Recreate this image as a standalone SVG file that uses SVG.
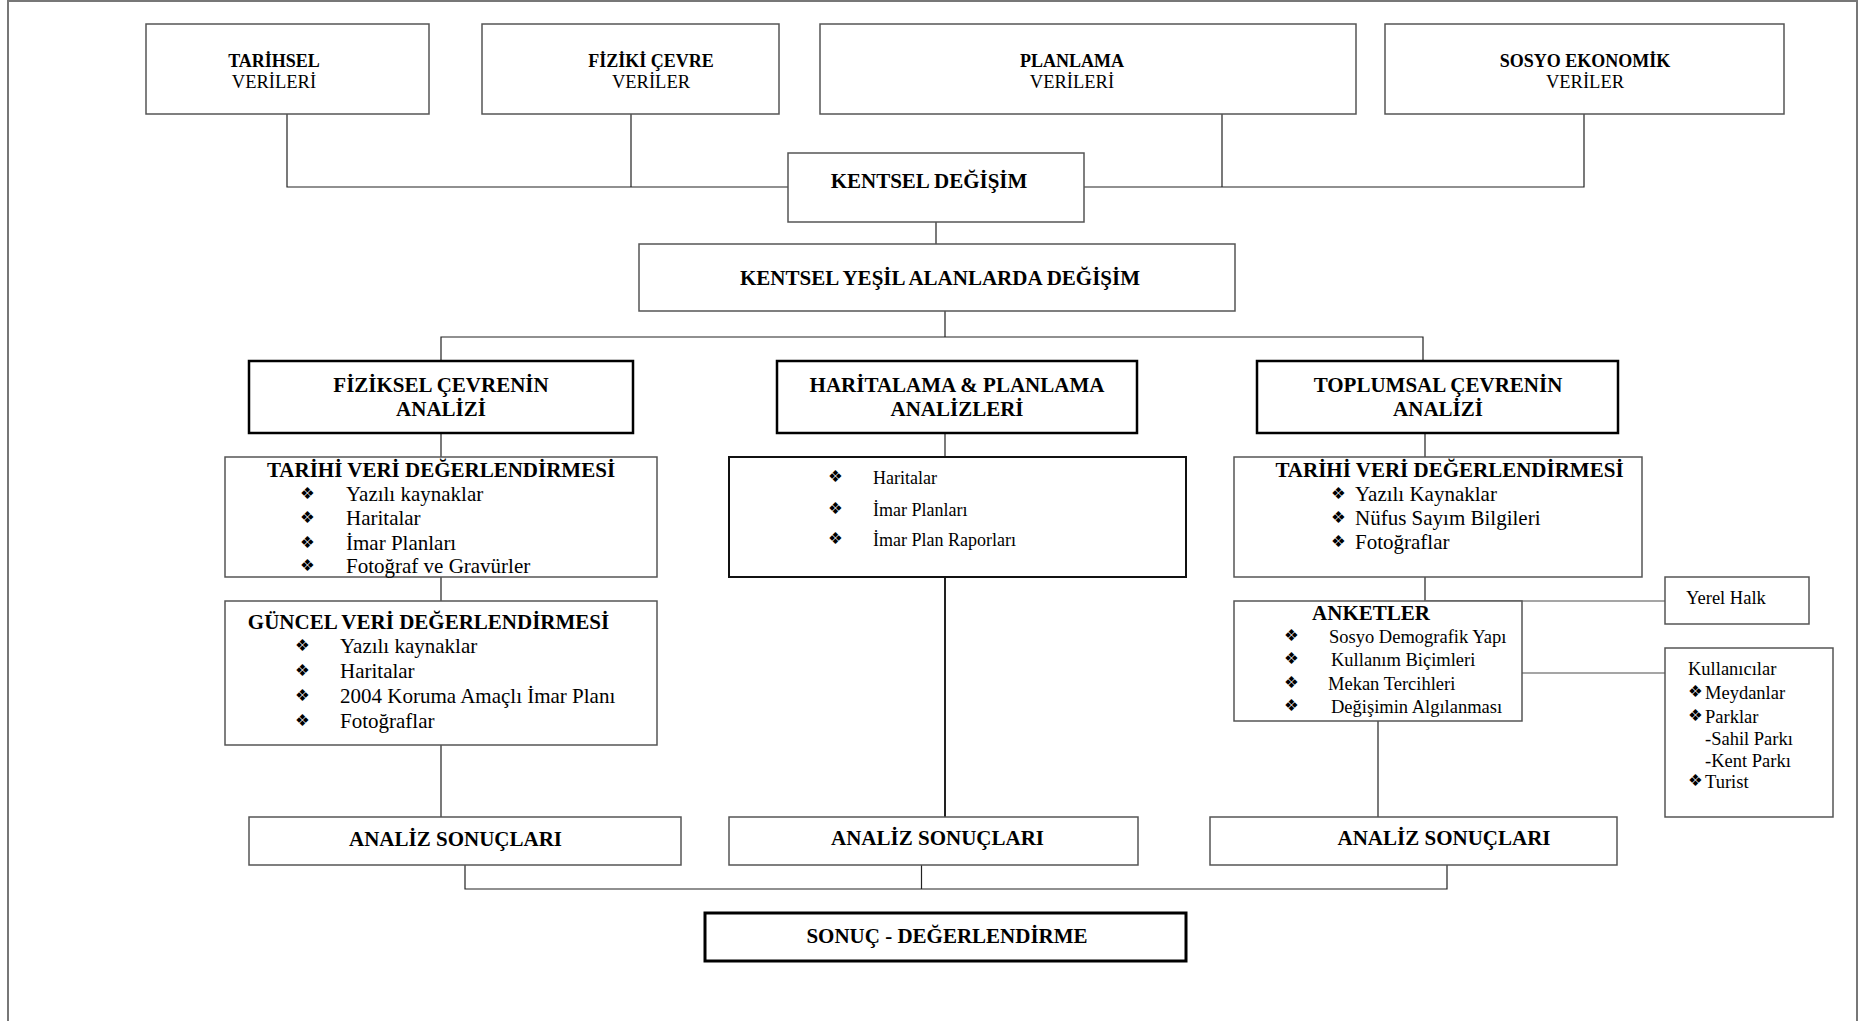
<svg xmlns="http://www.w3.org/2000/svg" width="1870" height="1021" viewBox="0 0 1870 1021">
<style>
text{font-family:"Liberation Serif","Times New Roman",serif;fill:#000}
.b{font-weight:bold;font-size:21px;text-anchor:middle}
.tb{font-weight:bold;font-size:18px;text-anchor:middle}
.tr{font-size:18.5px;text-anchor:middle}
.it{font-size:21px}
.im{font-size:18px}
.is{font-size:18.5px}
.bu{font-family:"DejaVu Sans",sans-serif;font-size:16.5px}
.box{fill:#fff;stroke:#555;stroke-width:1.5}
.thick{fill:#fff;stroke:#000;stroke-width:2.5}
.mid{fill:#fff;stroke:#111;stroke-width:2}
.con{fill:none;stroke:#222;stroke-width:1.2}
.gcon{fill:none;stroke:#888;stroke-width:1.5}
</style>
<rect x="8" y="1" width="1849" height="1040" fill="#fff" stroke="#777" stroke-width="2"/>
<g id="connectors">
<path class="con" d="M287,114 V187 H788 M631,114 V187 M1084,187 H1584 V114 M1222,114 V187"/>
<path class="con" d="M936,222 V244 M945,311 V337 M441,361 V337 H1423 V361"/>
<path class="con" d="M441,433 V457 M441,577 V601 M441,745 V817"/>
<path class="con" d="M945,433 V457"/>
<path class="con" style="stroke-width:2" d="M945,577 V817"/>
<path class="con" d="M1425,433 V457 M1425,577 V601 M1378,721 V817"/>
<path class="gcon" d="M1425,601 H1665 M1522,673 H1665"/>
<path class="con" d="M465,865 V889 H1447 V865 M921.5,865 V889"/>
</g>
<g id="tarihsel"><rect class="box" x="146" y="24" width="283" height="90"/><text class="tb" x="274" y="67">TARİHSEL</text><text class="tr" x="274" y="88">VERİLERİ</text></g>
<g id="fiziki"><rect class="box" x="482" y="24" width="297" height="90"/><text class="tb" x="651" y="67">FİZİKİ ÇEVRE</text><text class="tr" x="651" y="88">VERİLER</text></g>
<g id="planlama"><rect class="box" x="820" y="24" width="536" height="90"/><text class="tb" x="1072" y="67">PLANLAMA</text><text class="tr" x="1072" y="88">VERİLERİ</text></g>
<g id="sosyo"><rect class="box" x="1385" y="24" width="399" height="90"/><text class="tb" x="1585" y="67">SOSYO EKONOMİK</text><text class="tr" x="1585" y="88">VERİLER</text></g>
<g id="kentsel"><rect class="box" x="788" y="153" width="296" height="69"/><text class="b" x="929" y="188">KENTSEL DEĞİŞİM</text></g>
<g id="yesil"><rect class="box" x="639" y="244" width="596" height="67"/><text class="b" x="940" y="285">KENTSEL YEŞİL ALANLARDA DEĞİŞİM</text></g>
<g id="fiziksel"><rect class="thick" x="249" y="361" width="384" height="72"/><text class="b" x="441" y="392">FİZİKSEL ÇEVRENİN</text><text class="b" x="441" y="416">ANALİZİ</text></g>
<g id="haritalama"><rect class="thick" x="777" y="361" width="360" height="72"/><text class="b" x="957" y="392">HARİTALAMA &amp; PLANLAMA</text><text class="b" x="957" y="416">ANALİZLERİ</text></g>
<g id="toplumsal"><rect class="thick" x="1257" y="361" width="361" height="72"/><text class="b" x="1438" y="392">TOPLUMSAL ÇEVRENİN</text><text class="b" x="1438" y="416">ANALİZİ</text></g>
<g id="tarihi-left"><rect class="box" x="225" y="457" width="432" height="120"/>
<text class="b" x="441" y="477">TARİHİ VERİ DEĞERLENDİRMESİ</text>
<text class="bu" x="300" y="499">❖</text><text class="it" x="346" y="501">Yazılı kaynaklar</text>
<text class="bu" x="300" y="523">❖</text><text class="it" x="346" y="525">Haritalar</text>
<text class="bu" x="300" y="548">❖</text><text class="it" x="346" y="550">İmar Planları</text>
<text class="bu" x="300" y="571">❖</text><text class="it" x="346" y="573">Fotoğraf ve Gravürler</text></g>
<g id="guncel"><rect class="box" x="225" y="601" width="432" height="144"/>
<text class="b" x="428.5" y="629">GÜNCEL VERİ DEĞERLENDİRMESİ</text>
<text class="bu" x="295" y="651">❖</text><text class="it" x="340" y="653">Yazılı kaynaklar</text>
<text class="bu" x="295" y="676">❖</text><text class="it" x="340" y="678">Haritalar</text>
<text class="bu" x="295" y="701">❖</text><text class="it" x="340" y="703">2004 Koruma Amaçlı İmar Planı</text>
<text class="bu" x="295" y="726">❖</text><text class="it" x="340" y="728">Fotoğraflar</text></g>
<g id="harita-list"><rect class="mid" x="729" y="457" width="457" height="120"/>
<text class="bu" x="828" y="482">❖</text><text class="im" x="873" y="484">Haritalar</text>
<text class="bu" x="828" y="514">❖</text><text class="im" x="873" y="516">İmar Planları</text>
<text class="bu" x="828" y="544">❖</text><text class="im" x="873" y="546">İmar Plan Raporları</text></g>
<g id="tarihi-right"><rect class="box" x="1234" y="457" width="408" height="120"/>
<text class="b" x="1449.5" y="477">TARİHİ VERİ DEĞERLENDİRMESİ</text>
<text class="bu" x="1331" y="499">❖</text><text class="it" x="1355" y="501">Yazılı Kaynaklar</text>
<text class="bu" x="1331" y="523">❖</text><text class="it" x="1355" y="525">Nüfus Sayım Bilgileri</text>
<text class="bu" x="1331" y="547">❖</text><text class="it" x="1355" y="549">Fotoğraflar</text></g>
<g id="anketler"><rect class="box" x="1234" y="601" width="288" height="120"/>
<text class="b" x="1371" y="620">ANKETLER</text>
<text class="bu" x="1284" y="641">❖</text><text class="is" x="1329" y="643">Sosyo Demografik Yapı</text>
<text class="bu" x="1284" y="664">❖</text><text class="is" x="1331" y="666">Kullanım Biçimleri</text>
<text class="bu" x="1284" y="688">❖</text><text class="is" x="1328" y="690">Mekan Tercihleri</text>
<text class="bu" x="1284" y="711">❖</text><text class="is" x="1331" y="713">Değişimin Algılanması</text></g>
<g id="yerel"><rect class="box" x="1665" y="577" width="144" height="47"/><text class="is" x="1686" y="604">Yerel Halk</text></g>
<g id="kullanicilar"><rect class="box" x="1665" y="648" width="168" height="169"/>
<text class="is" x="1688" y="675">Kullanıcılar</text>
<text class="bu" x="1688" y="697">❖</text><text class="is" x="1705" y="699">Meydanlar</text>
<text class="bu" x="1688" y="721">❖</text><text class="is" x="1705" y="723">Parklar</text>
<text class="is" x="1705" y="745">-Sahil Parkı</text>
<text class="is" x="1705" y="767">-Kent Parkı</text>
<text class="bu" x="1688" y="786">❖</text><text class="is" x="1705" y="788">Turist</text></g>
<g id="analiz1"><rect class="box" x="249" y="817" width="432" height="48"/><text class="b" x="455.5" y="846">ANALİZ SONUÇLARI</text></g>
<g id="analiz2"><rect class="box" x="729" y="817" width="409" height="48"/><text class="b" x="937.5" y="845">ANALİZ SONUÇLARI</text></g>
<g id="analiz3"><rect class="box" x="1210" y="817" width="407" height="48"/><text class="b" x="1444" y="845">ANALİZ SONUÇLARI</text></g>
<g id="sonuc"><rect class="thick" style="stroke-width:3" x="705" y="913" width="481" height="48"/><text class="b" x="947" y="943">SONUÇ - DEĞERLENDİRME</text></g>
</svg>
